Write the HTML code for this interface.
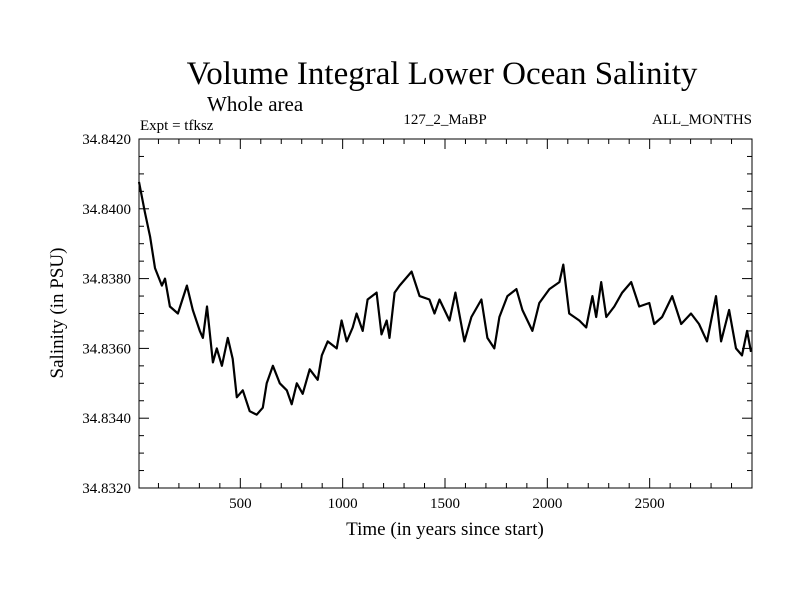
<!DOCTYPE html>
<html><head><meta charset="utf-8"><style>
html,body{margin:0;padding:0;background:#fff;}
svg text{font-family:"Liberation Serif",serif;fill:#000;}
</style></head><body>
<svg id="chart" width="800" height="600" xmlns="http://www.w3.org/2000/svg">
<rect width="800" height="600" fill="#fff"/>
<text x="442" y="84" font-size="33" text-anchor="middle">Volume Integral Lower Ocean Salinity</text>
<text x="207" y="111" font-size="21">Whole area</text>
<text x="140" y="130" font-size="15">Expt = tfksz</text>
<text x="445" y="124" font-size="15" text-anchor="middle">127_2_MaBP</text>
<text x="752" y="124" font-size="15" text-anchor="end">ALL_MONTHS</text>
<text transform="translate(63,313) rotate(-90)" font-size="19" text-anchor="middle">Salinity (in PSU)</text>
<text x="445" y="535" font-size="19" text-anchor="middle">Time (in years since start)</text>
<g id="axes"></g>
<path id="series" fill="none" stroke="#000" stroke-width="2.2" stroke-linejoin="round"/>
<rect x="139" y="139" width="613" height="349" fill="none" stroke="#000" stroke-width="1"/>
</svg>
<script>
const years=[5,34,59,83,117,132,156,195,239,268,302,317,337,366,385,410,439,463,483,512,546,580,610,629,659,693,727,751,776,805,839,878,898,927,971,995,1020,1049,1068,1098,1122,1166,1190,1215,1229,1254,1278,1337,1376,1424,1449,1473,1522,1551,1595,1629,1678,1707,1741,1766,1805,1849,1878,1927,1961,2010,2059,2078,2107,2156,2190,2220,2239,2263,2288,2327,2366,2410,2449,2498,2522,2561,2610,2654,2702,2741,2780,2824,2849,2888,2922,2951,2976,2995];
const salinity=[34.84077,34.8399,34.8392,34.8383,34.8378,34.8380,34.8372,34.8370,34.8378,34.8371,34.8365,34.8363,34.8372,34.8356,34.8360,34.8355,34.8363,34.8357,34.8346,34.8348,34.8342,34.8341,34.8343,34.8350,34.8355,34.8350,34.8348,34.8344,34.8350,34.8347,34.8354,34.8351,34.8358,34.8362,34.8360,34.8368,34.8362,34.8366,34.8370,34.8365,34.8374,34.8376,34.8364,34.8368,34.8363,34.8376,34.8378,34.8382,34.8375,34.8374,34.8370,34.8374,34.8368,34.8376,34.8362,34.8369,34.8374,34.8363,34.8360,34.8369,34.8375,34.8377,34.8371,34.8365,34.8373,34.8377,34.8379,34.8384,34.8370,34.8368,34.8366,34.8375,34.8369,34.8379,34.8369,34.8372,34.8376,34.8379,34.8372,34.8373,34.8367,34.8369,34.8375,34.8367,34.8370,34.8367,34.8362,34.8375,34.8362,34.8371,34.8360,34.8358,34.8365,34.8359];
const yTickLabels=["34.8320","34.8340","34.8360","34.8380","34.8400","34.8420"];
const xTickLabels=[500,1000,1500,2000,2500];

const X0=139,X1=752,Y0=488,Y1=139, XMIN=5, XMAX=3000, YMIN=34.832, YMAX=34.842;
const xs=v=>X0+(v-XMIN)/(XMAX-XMIN)*(X1-X0);
const ys=v=>Y0-(v-YMIN)/(YMAX-YMIN)*(Y0-Y1);
const NS="http://www.w3.org/2000/svg";
const axes=document.getElementById('axes');
function mk(tag,attrs){const e=document.createElementNS(NS,tag);for(const k in attrs)e.setAttribute(k,attrs[k]);axes.appendChild(e);return e;}
// y ticks
for(let i=0;i<=20;i++){
  const v=YMIN+i*0.0005, y=ys(v), major=i%4===0, len=major?10:5;
  const l=mk('line',{x1:X0,x2:X0+len,y1:y,y2:y,stroke:'#000','stroke-width':1});
  
  
  const r=mk('line',{x1:X1,x2:X1-len,y1:y,y2:y,stroke:'#000','stroke-width':1});
  
  
}
yTickLabels.forEach(s=>{
  const t=mk('text',{x:X0-8,y:ys(parseFloat(s))+5,'font-size':15,'text-anchor':'end'});
  t.textContent=s;
  
  
});
// x ticks
for(let v=100;v<3000;v+=100){
  const x=xs(v), major=v%500===0, len=major?10:5;
  const b=mk('line',{x1:x,x2:x,y1:Y0,y2:Y0-len,stroke:'#000','stroke-width':1});
  
  
  const t2=mk('line',{x1:x,x2:x,y1:Y1,y2:Y1+len,stroke:'#000','stroke-width':1});
  
  
}
xTickLabels.forEach(v=>{
  const t=mk('text',{x:xs(v),y:Y0+20,'font-size':15,'text-anchor':'middle'});
  t.textContent=v;
  
  
});
document.getElementById('series').setAttribute('d',years.map((yr,i)=>(i?'L':'M')+xs(yr).toFixed(1)+','+ys(salinity[i]).toFixed(1)).join(''));
</script>
</body></html>
